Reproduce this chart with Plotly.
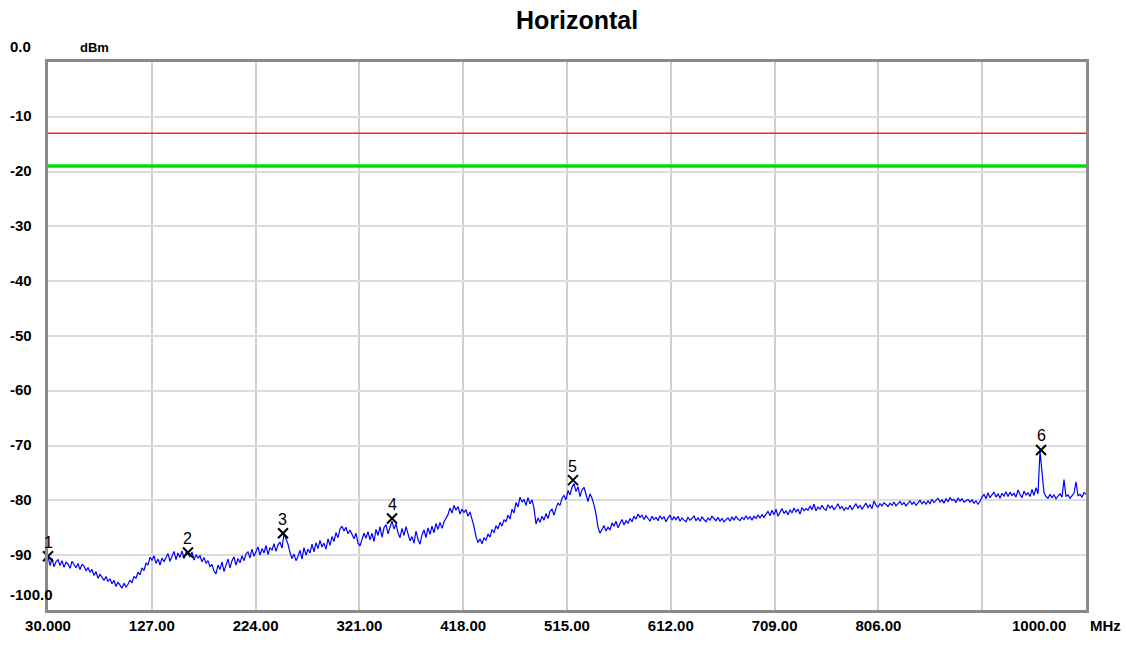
import numpy as np
import plotly.graph_objects as go

# ---- data ----
f_start, f_stop = 30.0, 1000.0
level_dbm = [
    -90.2, -91.9, -90.6, -92.1, -91.2, -90.8, -91.9, -91.0, -92.2, -91.3, -91.6, -92.4, -91.1, -91.8, -92.3, -91.5, -92.6, -91.7, -92.0, -92.8,
    -92.3, -93.1, -92.6, -93.7, -93.0, -94.2, -93.5, -94.0, -94.6, -93.9, -94.8, -94.3, -95.2, -94.6, -95.7, -94.9, -95.4, -96.0, -95.1, -95.8,
    -95.3, -94.6, -95.0, -93.9, -94.2, -93.1, -93.6, -92.3, -92.8, -91.4, -91.8, -90.4, -90.9, -90.1, -91.5, -90.7, -91.8, -90.5, -91.2, -90.4,
    -89.7, -91.1, -90.0, -89.3, -90.8, -89.6, -90.4, -89.2, -90.6, -89.5, -89.8, -90.3, -89.4, -90.9, -89.9, -90.5, -90.1, -91.2, -90.4, -91.5,
    -91.0, -92.1, -91.7, -92.9, -93.4, -91.8, -92.6, -91.2, -93.0, -91.9, -90.7, -92.3, -91.0, -90.3, -91.8, -90.6, -91.4, -90.1, -91.0, -89.8,
    -89.4, -90.5, -88.9, -90.2, -89.3, -88.5, -90.0, -88.8, -89.6, -88.2, -89.9, -88.6, -89.1, -87.9, -89.3, -88.1, -87.6, -88.7, -86.1, -86.9,
    -88.0, -89.5, -90.6, -89.8, -91.0, -90.2, -89.1, -90.7, -88.6, -90.0, -88.9, -89.6, -88.0, -89.4, -87.7, -88.8, -87.3, -88.5, -87.8, -88.9,
    -87.0, -88.2, -86.6, -87.5, -85.9, -86.8, -85.2, -84.7, -85.6, -84.9, -86.1, -85.4, -86.3, -87.0, -86.0, -87.8, -88.3, -87.1, -86.0, -86.9,
    -85.7, -87.2, -86.0, -87.5, -85.3, -86.4, -84.8, -86.7, -85.0, -84.4, -86.1, -84.9, -83.8, -85.2, -84.3, -85.9, -86.8, -85.1, -86.4, -84.8,
    -86.0, -87.4, -86.6, -87.8, -85.6, -87.1, -88.0, -86.3, -85.4, -86.8, -85.0, -86.2, -84.7, -85.9, -84.2, -85.3, -84.0, -85.1, -83.9, -83.2,
    -82.6, -81.4, -82.3, -80.9, -81.8, -81.1, -82.5, -81.6, -82.2, -81.7, -82.9, -82.1, -83.4, -84.8, -86.6, -87.7, -87.0, -87.9, -86.8, -87.3,
    -86.1, -86.7, -85.3, -85.9, -84.6, -85.2, -84.0, -84.7, -83.5, -83.9, -82.7, -83.4, -81.6, -82.3, -80.4, -81.2, -79.4, -80.3, -79.8, -80.9,
    -79.5, -80.6, -79.9, -81.4, -84.3, -83.2, -84.0, -82.9, -83.6, -82.4, -83.3, -82.0, -81.6, -82.7, -81.4, -80.5, -80.9, -79.6, -79.1, -79.9,
    -78.2, -79.0, -77.6, -76.9, -78.4, -77.5, -79.3, -78.1, -77.6, -79.0, -80.2, -78.8, -79.6, -80.8, -82.5, -84.9, -86.0, -85.3, -84.6, -85.6,
    -84.9, -85.4, -84.1, -84.7, -83.8, -85.0, -84.2, -83.5, -84.5, -83.7, -84.2, -83.3, -83.9, -82.9, -83.4, -82.5, -83.1, -82.7, -83.5, -82.8,
    -83.3, -83.8, -82.9, -83.5, -83.1, -83.7, -82.8, -83.4, -83.0, -83.9, -83.2, -82.7, -83.6, -83.0, -83.5, -82.9, -83.8, -83.2, -83.6, -83.9,
    -83.1, -83.6, -83.3, -82.8, -83.7, -83.2, -83.8, -83.0, -83.5, -83.9, -83.2, -83.6, -82.9, -83.4, -83.7, -83.1, -83.8, -83.3, -83.9, -83.5,
    -83.2, -83.8, -83.0, -83.6, -82.9, -83.4, -83.7, -83.1, -83.5, -82.8, -83.4, -83.0, -83.6, -82.9, -83.3, -82.7, -83.2, -82.6, -83.1, -82.5,
    -82.0, -82.8, -81.8, -82.6, -81.6, -82.9, -82.2, -81.5, -82.4, -81.9, -82.6, -81.7, -82.3, -81.4, -82.1, -81.6, -82.5, -81.3, -81.9, -81.5,
    -81.8, -81.0, -81.7, -80.7, -81.9, -81.2, -81.6, -80.9, -81.5, -81.8, -80.8, -81.4, -81.0, -81.7, -81.2, -80.6, -81.5, -81.1, -81.8, -81.3,
    -81.6, -80.9, -81.7, -81.2, -80.6, -81.4, -80.9, -81.6, -81.0, -80.5, -81.3, -80.8, -81.5, -80.1, -80.9, -81.2, -80.6, -81.0, -80.4, -80.8,
    -81.1, -80.5, -80.9, -80.3, -81.0, -80.6, -80.2, -80.8, -80.4, -81.0, -80.5, -80.1, -80.7, -80.3, -80.9, -80.4, -80.0, -80.6, -80.2, -80.7,
    -80.1, -80.6, -79.8, -80.4, -80.0, -79.6, -80.3, -79.9, -80.5, -79.7, -80.2, -79.5, -80.0, -79.8, -80.4, -79.6, -80.1, -79.7, -80.3, -80.0,
    -79.8, -80.3, -79.9, -80.5, -80.1, -80.7, -80.2, -79.4, -78.9, -79.7, -78.6, -79.5, -79.0, -78.5, -79.4, -78.8, -79.6, -78.7, -79.2, -78.4,
    -79.3, -78.5, -79.1, -78.7, -79.4, -78.1, -78.9, -79.5, -78.3, -79.0, -78.6, -79.3, -78.0, -79.1, -77.7, -78.8, -71.0, -75.4, -78.6, -79.3,
    -79.6, -78.9, -79.5, -79.0, -79.7, -79.2, -78.8, -79.4, -76.2, -79.3, -79.0, -79.6, -79.1, -78.7, -76.6, -79.2, -78.9, -79.4, -78.6, -78.9,
]
freq_mhz = np.linspace(f_start, f_stop, len(level_dbm))

limit_red = -13.0
limit_green = -19.0

marker_ids = ["1", "2", "3", "4", "5", "6"]
marker_freq = [30.0, 160.8, 249.6, 351.5, 520.6, 958.0]
marker_level = [-90.2, -89.5, -86.0, -83.3, -76.3, -70.8]

x_tickvals = [30, 127, 224, 321, 418, 515, 612, 709, 806, 903, 1000]
x_ticktext = ["30.000", "127.00", "224.00", "321.00", "418.00", "515.00",
              "612.00", "709.00", "806.00", "", ""]
y_tickvals = [0, -10, -20, -30, -40, -50, -60, -70, -80, -90, -100]
y_ticktext = ["0.0", "-10", "-20", "-30", "-40", "-50", "-60", "-70", "-80", "-90", "-100.0"]

# ---- figure ----
W, H = 1127, 646
ML, MR, MT, MB = 48, 41, 62, 30
PW = W - ML - MR

fig = go.Figure()
fig.add_trace(go.Scatter(x=[f_start, f_stop], y=[limit_red, limit_red], mode="lines",
                         line=dict(color="#ff2020", width=1.5), hoverinfo="skip"))
fig.add_trace(go.Scatter(x=[f_start, f_stop], y=[limit_green, limit_green], mode="lines",
                         line=dict(color="#00e000", width=3.5), hoverinfo="skip"))
fig.add_trace(go.Scatter(x=freq_mhz, y=level_dbm, mode="lines",
                         line=dict(color="#0000ff", width=1.2)))
fig.add_trace(go.Scatter(x=marker_freq, y=marker_level, mode="markers",
                         marker=dict(symbol="x-thin", size=10,
                                     line=dict(color="black", width=2)),
                         cliponaxis=False))

tick_font = dict(family="Liberation Sans", size=15, color="black", weight="bold")

annotations = []
# marker numbers just above each X
for mid, mf, ml in zip(marker_ids, marker_freq, marker_level):
    annotations.append(dict(x=mf, y=ml, xref="x", yref="y", text=mid, showarrow=False,
                            xanchor="center", yanchor="middle", yshift=14,
                            font=dict(family="Liberation Sans", size=16, color="black")))
# y-axis labels, left aligned at the page edge
for v, t in zip(y_tickvals, y_ticktext):
    shift = 1
    if v == 0 or v == -100:
        shift = 16
    annotations.append(dict(x=-(ML - 8) / PW, xref="paper", y=v, yref="y",
                            text=t, showarrow=False, xanchor="left", yanchor="middle",
                            yshift=shift, font=tick_font))
annotations.append(dict(x=(78 - ML) / PW, xref="paper", y=0, yref="y", yshift=15,
                        text="dBm", showarrow=False, xanchor="left", yanchor="middle",
                        font=dict(family="Liberation Sans", size=13, color="black", weight="bold")))
annotations.append(dict(x=(1039 - ML) / PW, xref="paper", y=-100, yref="y", yshift=-15,
                        text="1000.00", showarrow=False, xanchor="center", yanchor="middle",
                        font=tick_font))
annotations.append(dict(x=(1088 - ML) / PW, xref="paper", y=-100, yref="y", yshift=-15,
                        text="MHz", showarrow=False, xanchor="left", yanchor="middle",
                        font=tick_font))

fig.update_layout(
    width=W, height=H,
    margin=dict(l=ML, r=MR, t=MT, b=MB),
    paper_bgcolor="white", plot_bgcolor="white",
    showlegend=False,
    title=dict(text="Horizontal", x=577 / W, xanchor="center", y=1 - 20 / H, yanchor="middle",
               font=dict(family="Liberation Sans", size=25, color="black", weight="bold")),
    xaxis=dict(range=[f_start, f_stop], tickvals=x_tickvals, ticktext=x_ticktext,
               showgrid=True, gridcolor="#d0d0d0", gridwidth=1.5,
               showline=True, mirror=True, linecolor="#8a8a8a", linewidth=3,
               ticks="", tickfont=tick_font, zeroline=False),
    yaxis=dict(range=[-100, 0], tickvals=y_tickvals, showticklabels=False,
               showgrid=True, gridcolor="#dcdcdc", gridwidth=1.5,
               showline=True, mirror=True, linecolor="#8a8a8a", linewidth=3,
               ticks="", zeroline=False),
    annotations=annotations,
)

fig.write_html("out.html", config={"displayModeBar": False},
               post_script="document.body.style.margin='0';document.body.style.overflow='hidden';")
